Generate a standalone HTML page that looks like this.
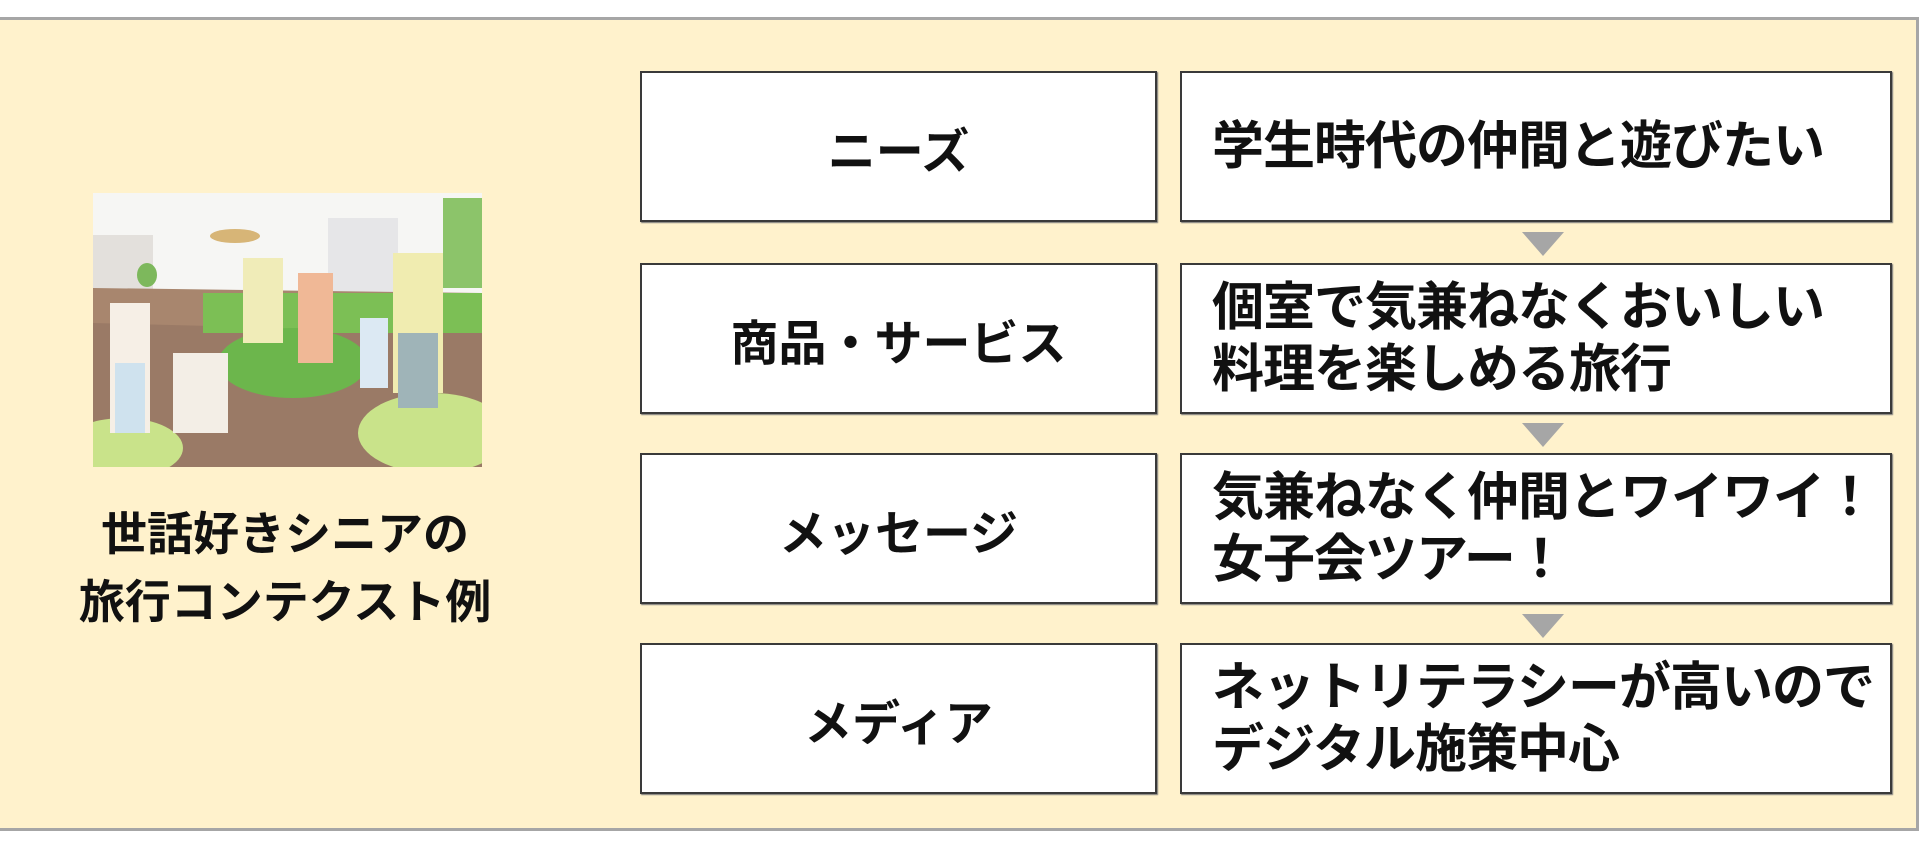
<!DOCTYPE html>
<html><head><meta charset="utf-8"><style>
html,body{margin:0;padding:0;width:1920px;height:850px;overflow:hidden;background:#fff;}
.frame{position:absolute;left:0;top:17px;width:1916px;height:808px;background:#fff2cc;border:3px solid #a6a6a6;border-left:none;}
.box{position:absolute;background:#fff;border:2px solid #3a3a3a;box-sizing:border-box;box-shadow:1px 1px 1px #777;font-family:"Liberation Sans","Noto Sans CJK JP",sans-serif;font-weight:bold;color:#111;}
.l{left:640px;width:517px;height:151px;display:flex;align-items:center;justify-content:center;font-size:48px;}
.r{left:1180px;width:712px;height:151px;display:flex;align-items:center;padding-left:30px;font-size:52px;line-height:62px;letter-spacing:-1px;}
.tri{position:absolute;left:1522px;width:0;height:0;border-left:21px solid transparent;border-right:21px solid transparent;border-top:24px solid #a6a6a6;}
.title{position:absolute;left:40px;width:490px;top:500px;text-align:center;font-family:"Liberation Sans","Noto Sans CJK JP",sans-serif;font-weight:bold;font-size:46px;line-height:68px;color:#111;}
svg{position:absolute;left:93px;top:193px;}
</style></head><body>
<div class="frame"></div>
<svg width="389" height="274" viewBox="0 0 389 274">
<rect width="389" height="274" fill="#f6f6f4"/>
<rect x="0" y="42" width="60" height="60" fill="#e3e0dc"/>
<rect x="235" y="25" width="70" height="75" fill="#e6e6e8"/>
<rect x="350" y="5" width="39" height="90" fill="#8cc46a"/>
<polygon points="0,95 389,100 389,274 0,274" fill="#a8866e"/>
<polygon points="0,130 389,140 389,274 0,274" fill="#9a7a66"/>
<rect x="110" y="100" width="279" height="40" fill="#7cbf55"/>
<ellipse cx="200" cy="170" rx="75" ry="35" fill="#6cb64c"/>
<ellipse cx="340" cy="240" rx="75" ry="40" fill="#c9e38a"/>
<ellipse cx="30" cy="255" rx="60" ry="30" fill="#c9e38a"/>
<rect x="150" y="65" width="40" height="85" fill="#f0ecb8"/>
<rect x="205" y="80" width="35" height="90" fill="#f0b896"/>
<rect x="300" y="60" width="50" height="140" fill="#f0ecb0"/>
<rect x="305" y="140" width="40" height="75" fill="#9fb4b8"/>
<rect x="17" y="110" width="40" height="130" fill="#f6efe6"/>
<rect x="22" y="170" width="30" height="70" fill="#cfe2ee"/>
<rect x="80" y="160" width="55" height="80" fill="#f3eee6"/>
<ellipse cx="142" cy="43" rx="25" ry="7" fill="#d7b577"/>
<ellipse cx="54" cy="82" rx="10" ry="12" fill="#7db85c"/>
<rect x="267" y="125" width="28" height="70" fill="#dce9f3"/>
</svg>
<div class="title">世話好きシニアの<br>旅行コンテクスト例</div>
<div class="box l" style="top:71px">ニーズ</div>
<div class="box r" style="top:71px">学生時代の仲間と遊びたい</div>
<div class="tri" style="top:232px"></div>
<div class="box l" style="top:263px">商品・サービス</div>
<div class="box r" style="top:263px">個室で気兼ねなくおいしい<br>料理を楽しめる旅行</div>
<div class="tri" style="top:423px"></div>
<div class="box l" style="top:453px">メッセージ</div>
<div class="box r" style="top:453px">気兼ねなく仲間とワイワイ！<br>女子会ツアー！</div>
<div class="tri" style="top:614px"></div>
<div class="box l" style="top:643px">メディア</div>
<div class="box r" style="top:643px">ネットリテラシーが高いので<br>デジタル施策中心</div>
</body></html>
